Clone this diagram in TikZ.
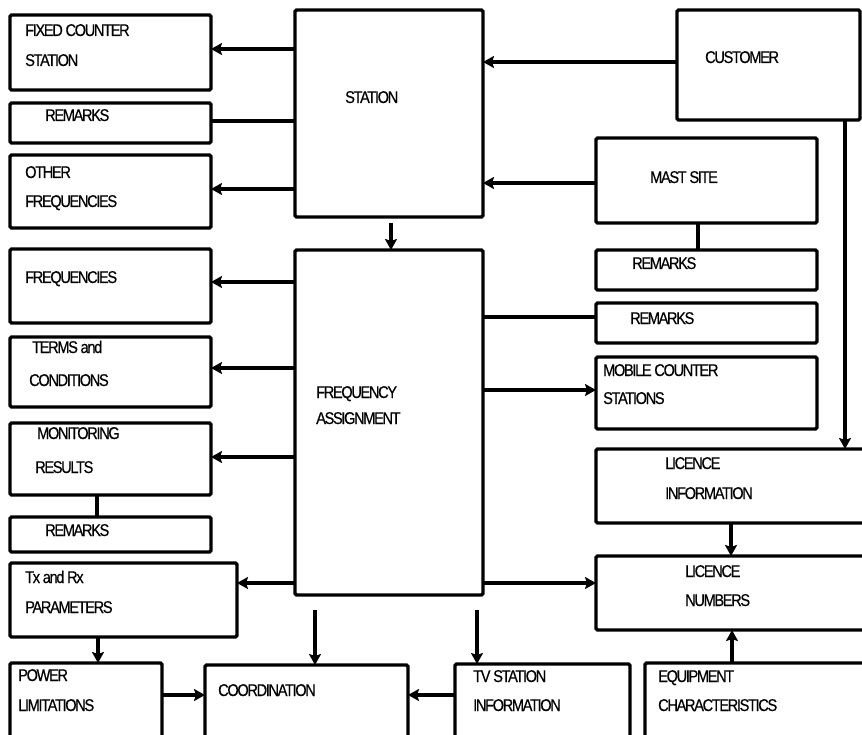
\documentclass[tikz,border=0pt]{standalone}
\usepackage{fontspec}
\setmainfont{Liberation Sans}
\newfontfamily\lab[FakeStretch=0.86, LetterSpace=-8, FakeBold=0.4]{Liberation Sans}
\usetikzlibrary{arrows.meta}

% rectangle node from its corner coordinates: name, x1, y1, x2, y2
\newcommand\blk[5]{%
  \node[blk, minimum width={#4-#2}, minimum height={#5-#3}] (#1) at ({(#2+#4)/2},{(#3+#5)/2}) {};}
% one line of text: name, x, baseline y, text
\newcommand\txt[4]{\node[txtline] (#1) at (#2,#3) {#4};}

\tikzset{
  blk/.style={draw, line width=3.4pt, rounded corners=1.5pt, rectangle, inner sep=0pt, outer sep=0pt, fill=white},
  txtline/.style={anchor=base west, inner sep=0pt, font=\lab\fontsize{17}{17}\selectfont},
  link/.style={line width=3.2pt},
  arr/.style={line width=3.2pt, -{Stealth[length=11pt,width=12pt,inset=2pt]}},
}

\begin{document}
\begin{tikzpicture}[x=1pt, y=-1pt]
\useasboundingbox (0,0) rectangle (862,735);
\clip (0,0) rectangle (862,735);

% ---- boxes ----
\blk{fcs}{10}{15}{211}{90}
\blk{rem1}{10}{103}{211}{143}
\blk{ofr}{10}{155}{211}{228}
\blk{stn}{295}{10}{483}{217}
\blk{cus}{677}{10}{860}{120}
\blk{mst}{596}{138}{817}{223}
\blk{rem2}{596}{250}{817}{290}
\blk{fq}{10}{249}{211}{323}
\blk{tc}{10}{337}{211}{407}
\blk{mon}{10}{423}{211}{495}
\blk{rem3}{10}{517}{211}{552}
\blk{fa}{295}{250}{483}{595}
\blk{rem4}{596}{303}{817}{343}
\blk{mcs}{596}{357}{817}{429}
\blk{li}{596}{449}{872}{523}
\blk{ln}{596}{556}{872}{630}
\blk{txrx}{10}{563}{237}{637}
\blk{pow}{10}{663}{162}{750}
\blk{coo}{205}{665}{408}{750}
\blk{tv}{455}{664}{630}{750}
\blk{eq}{645}{663}{872}{750}

% ---- texts ----
\txt{fcs1}{25}{36}{FIXED COUNTER}
\txt{fcs2}{25}{66}{STATION}
\txt{rem1t}{45}{121}{REMARKS}
\txt{ofr1}{25}{178}{OTHER}
\txt{ofr2}{25}{207}{FREQUENCIES}
\txt{stnt}{345}{103}{STATION}
\txt{cust}{705}{63}{CUSTOMER}
\txt{mstt}{650}{183}{MAST SITE}
\txt{rem2t}{632}{269}{REMARKS}
\txt{fqt}{25}{283}{FREQUENCIES}
\txt{tc1}{32}{353}{TERMS and}
\txt{tc2}{29}{386}{CONDITIONS}
\txt{mon1}{37}{439}{MONITORING}
\txt{mon2}{35}{473}{RESULTS}
\txt{rem3t}{45}{536}{REMARKS}
\txt{fa1}{316}{398}{FREQUENCY}
\txt{fa2}{316}{424}{ASSIGNMENT}
\txt{rem4t}{630}{324}{REMARKS}
\txt{mcs1}{603}{376}{MOBILE COUNTER}
\txt{mcs2}{603}{404}{STATIONS}
\txt{li1}{665}{469}{LICENCE}
\txt{li2}{665}{499}{INFORMATION}
\txt{ln1}{685}{577}{LICENCE}
\txt{ln2}{685}{606}{NUMBERS}
\txt{tx1}{25}{583}{Tx and Rx}
\txt{tx2}{25}{613}{PARAMETERS}
\txt{pow1}{18}{681}{POWER}
\txt{pow2}{18}{711}{LIMITATIONS}
\txt{coot}{218}{696}{COORDINATION}
\txt{tv1}{473}{682}{TV STATION}
\txt{tv2}{473}{711}{INFORMATION}
\txt{eq1}{658}{682}{EQUIPMENT}
\txt{eq2}{658}{711}{CHARACTERISTICS}

% ---- connectors ----
\draw[arr]  (stn.west |- 0,49)  -- (fcs.east |- 0,49);
\draw[link] (stn.west |- 0,121) -- (rem1.east |- 0,121);
\draw[arr]  (stn.west |- 0,189) -- (ofr.east |- 0,189);
\draw[arr]  (cus.west |- 0,62)  -- (stn.east |- 0,62);
\draw[arr]  (mst.west |- 0,183) -- (stn.east |- 0,183);
\draw[link] (mst.south -| 698,0) -- (rem2.north -| 698,0);
\draw[arr, shorten <=6pt] (stn.south -| 391,0) -- (fa.north -| 391,0);
\draw[arr]  (fa.west |- 0,282) -- (fq.east |- 0,282);
\draw[arr]  (fa.west |- 0,368) -- (tc.east |- 0,368);
\draw[arr]  (fa.west |- 0,457) -- (mon.east |- 0,457);
\draw[link] (mon.south -| 97,0) -- (rem3.north -| 97,0);
\draw[link] (fa.east |- 0,317) -- (rem4.west |- 0,317);
\draw[arr]  (fa.east |- 0,390) -- (mcs.west |- 0,390);
\draw[arr]  (cus.south -| 845,0) -- (li.north -| 845,0);
\draw[arr]  (li.south -| 731,0) -- (ln.north -| 731,0);
\draw[arr]  (fa.west |- 0,583) -- (txrx.east |- 0,583);
\draw[arr]  (fa.east |- 0,583) -- (ln.west |- 0,583);
\draw[arr]  (txrx.south -| 98,0) -- (pow.north -| 98,0);
\draw[arr]  (pow.east |- 0,695) -- (coo.west |- 0,695);
\draw[arr, shorten <=15pt] (fa.south -| 315,0) -- (coo.north -| 315,0);
\draw[arr, shorten <=15pt] (fa.south -| 477,0) -- (tv.north -| 477,0);
\draw[arr]  (tv.west |- 0,695) -- (coo.east |- 0,695);
\draw[arr]  (eq.north -| 732,0) -- (ln.south -| 732,0);
\end{tikzpicture}
\end{document}
